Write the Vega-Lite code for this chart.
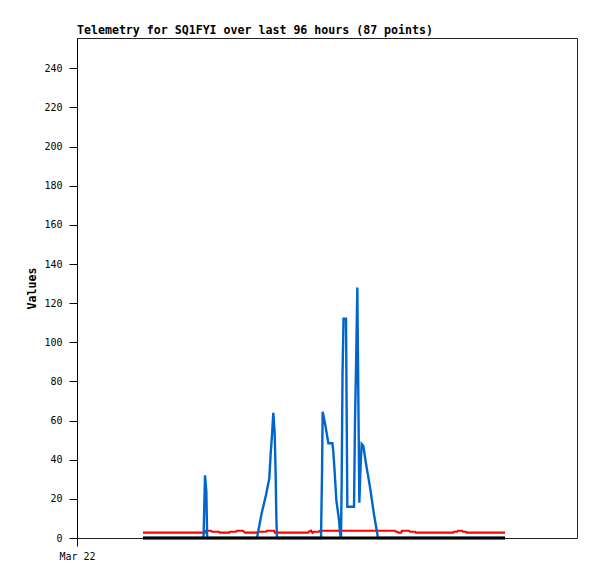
{
  "$schema": "https://vega.github.io/schema/vega-lite/v6.json",
  "autosize": {"type": "none"},
  "padding": {"left": 77, "top": 38, "right": 20, "bottom": 41},
  "width": 500,
  "height": 500,
  "background": "white",
  "config": {
    "view": {"stroke": "#222", "strokeWidth": 1},
    "font": "DejaVu Sans Mono"
  },
  "title": {
    "text": "Telemetry for SQ1FYI over last 96 hours (87 points)",
    "anchor": "start",
    "frame": "group",
    "offset": 1,
    "font": "DejaVu Sans Mono",
    "fontSize": 11.6,
    "fontWeight": "bold",
    "color": "black"
  },
  "data": {
    "values": [
      {"series": "red", "t": "2024-03-22T16:30", "v": 2.7},
      {"series": "red", "t": "2024-03-23T08:00", "v": 2.7},
      {"series": "red", "t": "2024-03-23T08:15", "v": 3.7},
      {"series": "red", "t": "2024-03-23T09:30", "v": 3.7},
      {"series": "red", "t": "2024-03-23T09:45", "v": 3.2},
      {"series": "red", "t": "2024-03-23T11:30", "v": 3.2},
      {"series": "red", "t": "2024-03-23T11:45", "v": 2.7},
      {"series": "red", "t": "2024-03-23T14:00", "v": 2.7},
      {"series": "red", "t": "2024-03-23T14:15", "v": 3.2},
      {"series": "red", "t": "2024-03-23T15:45", "v": 3.2},
      {"series": "red", "t": "2024-03-23T16:00", "v": 3.7},
      {"series": "red", "t": "2024-03-23T17:30", "v": 3.7},
      {"series": "red", "t": "2024-03-23T18:00", "v": 2.7},
      {"series": "red", "t": "2024-03-23T21:00", "v": 2.7},
      {"series": "red", "t": "2024-03-23T21:15", "v": 3.2},
      {"series": "red", "t": "2024-03-23T23:15", "v": 3.2},
      {"series": "red", "t": "2024-03-23T23:30", "v": 3.7},
      {"series": "red", "t": "2024-03-24T01:15", "v": 3.7},
      {"series": "red", "t": "2024-03-24T01:30", "v": 2.7},
      {"series": "red", "t": "2024-03-24T09:45", "v": 2.7},
      {"series": "red", "t": "2024-03-24T10:00", "v": 3.2},
      {"series": "red", "t": "2024-03-24T10:30", "v": 3.7},
      {"series": "red", "t": "2024-03-24T10:52", "v": 2.7},
      {"series": "red", "t": "2024-03-24T11:15", "v": 3.2},
      {"series": "red", "t": "2024-03-24T12:30", "v": 3.2},
      {"series": "red", "t": "2024-03-24T12:45", "v": 3.7},
      {"series": "red", "t": "2024-03-25T07:30", "v": 3.7},
      {"series": "red", "t": "2024-03-25T07:45", "v": 3.2},
      {"series": "red", "t": "2024-03-25T08:08", "v": 3.2},
      {"series": "red", "t": "2024-03-25T08:23", "v": 2.7},
      {"series": "red", "t": "2024-03-25T09:00", "v": 2.7},
      {"series": "red", "t": "2024-03-25T09:15", "v": 3.7},
      {"series": "red", "t": "2024-03-25T11:00", "v": 3.7},
      {"series": "red", "t": "2024-03-25T11:15", "v": 3.2},
      {"series": "red", "t": "2024-03-25T12:30", "v": 3.2},
      {"series": "red", "t": "2024-03-25T12:45", "v": 2.7},
      {"series": "red", "t": "2024-03-25T22:00", "v": 2.7},
      {"series": "red", "t": "2024-03-25T22:15", "v": 3.2},
      {"series": "red", "t": "2024-03-25T23:00", "v": 3.2},
      {"series": "red", "t": "2024-03-25T23:15", "v": 3.7},
      {"series": "red", "t": "2024-03-26T00:15", "v": 3.7},
      {"series": "red", "t": "2024-03-26T00:30", "v": 3.2},
      {"series": "red", "t": "2024-03-26T01:15", "v": 3.2},
      {"series": "red", "t": "2024-03-26T01:30", "v": 2.7},
      {"series": "red", "t": "2024-03-26T11:00", "v": 2.7},

      {"series": "blue", "t": "2024-03-22T16:30", "v": 0},
      {"series": "blue", "t": "2024-03-23T07:38", "v": 0},
      {"series": "blue", "t": "2024-03-23T08:00", "v": 32},
      {"series": "blue", "t": "2024-03-23T08:20", "v": 24},
      {"series": "blue", "t": "2024-03-23T08:33", "v": 0},
      {"series": "blue", "t": "2024-03-23T21:00", "v": 0},
      {"series": "blue", "t": "2024-03-23T22:10", "v": 12.7},
      {"series": "blue", "t": "2024-03-23T23:15", "v": 22},
      {"series": "blue", "t": "2024-03-24T00:05", "v": 30.6},
      {"series": "blue", "t": "2024-03-24T00:25", "v": 43},
      {"series": "blue", "t": "2024-03-24T00:45", "v": 52.6},
      {"series": "blue", "t": "2024-03-24T01:05", "v": 64},
      {"series": "blue", "t": "2024-03-24T01:25", "v": 53.6},
      {"series": "blue", "t": "2024-03-24T01:40", "v": 32},
      {"series": "blue", "t": "2024-03-24T01:50", "v": 11},
      {"series": "blue", "t": "2024-03-24T02:00", "v": 0},
      {"series": "blue", "t": "2024-03-24T13:00", "v": 0},
      {"series": "blue", "t": "2024-03-24T13:15", "v": 32},
      {"series": "blue", "t": "2024-03-24T13:25", "v": 64.5},
      {"series": "blue", "t": "2024-03-24T14:00", "v": 58.6},
      {"series": "blue", "t": "2024-03-24T14:25", "v": 53.6},
      {"series": "blue", "t": "2024-03-24T14:50", "v": 48.4},
      {"series": "blue", "t": "2024-03-24T15:50", "v": 48.4},
      {"series": "blue", "t": "2024-03-24T16:05", "v": 44},
      {"series": "blue", "t": "2024-03-24T16:20", "v": 36.4},
      {"series": "blue", "t": "2024-03-24T16:35", "v": 28},
      {"series": "blue", "t": "2024-03-24T16:50", "v": 19.4},
      {"series": "blue", "t": "2024-03-24T17:10", "v": 14.3},
      {"series": "blue", "t": "2024-03-24T17:30", "v": 9.2},
      {"series": "blue", "t": "2024-03-24T17:45", "v": 2.6},
      {"series": "blue", "t": "2024-03-24T18:00", "v": 0},
      {"series": "blue", "t": "2024-03-24T18:10", "v": 28},
      {"series": "blue", "t": "2024-03-24T18:23", "v": 84},
      {"series": "blue", "t": "2024-03-24T18:38", "v": 112},
      {"series": "blue", "t": "2024-03-24T19:15", "v": 112},
      {"series": "blue", "t": "2024-03-24T19:25", "v": 64},
      {"series": "blue", "t": "2024-03-24T19:35", "v": 16},
      {"series": "blue", "t": "2024-03-24T21:15", "v": 16},
      {"series": "blue", "t": "2024-03-24T21:30", "v": 60},
      {"series": "blue", "t": "2024-03-24T21:45", "v": 86},
      {"series": "blue", "t": "2024-03-24T22:05", "v": 128},
      {"series": "blue", "t": "2024-03-24T22:20", "v": 72},
      {"series": "blue", "t": "2024-03-24T22:35", "v": 18},
      {"series": "blue", "t": "2024-03-24T22:55", "v": 38},
      {"series": "blue", "t": "2024-03-24T23:10", "v": 48},
      {"series": "blue", "t": "2024-03-24T23:35", "v": 47},
      {"series": "blue", "t": "2024-03-25T00:15", "v": 38},
      {"series": "blue", "t": "2024-03-25T01:15", "v": 26},
      {"series": "blue", "t": "2024-03-25T02:15", "v": 12},
      {"series": "blue", "t": "2024-03-25T03:15", "v": 0},
      {"series": "blue", "t": "2024-03-26T11:00", "v": 0},

      {"series": "black", "t": "2024-03-22T16:30", "v": 0},
      {"series": "black", "t": "2024-03-26T11:00", "v": 0}
    ]
  },
  "encoding": {
    "x": {
      "field": "t",
      "type": "temporal",
      "scale": {"domain": [{"year": 2024, "month": 3, "date": 22}, {"year": 2024, "month": 3, "date": 27, "hours": 5}]},
      "axis": {
        "title": null,
        "values": [{"year": 2024, "month": 3, "date": 22}],
        "format": "%b %d",
        "grid": false,
        "domain": false,
        "tickColor": "black",
        "tickSize": 8,
        "labelPadding": 5,
        "labelFont": "DejaVu Sans Mono",
        "labelFontSize": 10,
        "labelColor": "black",
        "labelAlign": "center"
      }
    },
    "y": {
      "field": "v",
      "type": "quantitative",
      "scale": {"domain": [0, 255.5], "nice": false, "zero": true},
      "axis": {
        "title": "Values",
        "values": [0, 20, 40, 60, 80, 100, 120, 140, 160, 180, 200, 220, 240],
        "grid": false,
        "domainColor": "black",
        "tickColor": "black",
        "tickSize": 8,
        "labelPadding": 7,
        "labelFont": "DejaVu Sans Mono",
        "labelFontSize": 10,
        "labelColor": "black",
        "titleFont": "DejaVu Sans Mono",
        "titleFontSize": 11.6,
        "titleFontWeight": "bold",
        "titleColor": "black",
        "titleX": -45,
        "titleY": 250,
        "titleAngle": -90,
        "titleAlign": "center",
        "titleBaseline": "middle"
      }
    }
  },
  "layer": [
    {
      "transform": [{"filter": "datum.series === 'red'"}],
      "mark": {"type": "line", "color": "#ff0000", "strokeWidth": 2.2, "interpolate": "linear"}
    },
    {
      "transform": [{"filter": "datum.series === 'blue'"}],
      "mark": {"type": "line", "color": "#0066cc", "strokeWidth": 2.4, "interpolate": "linear"}
    },
    {
      "transform": [{"filter": "datum.series === 'black'"}],
      "mark": {"type": "line", "color": "#000000", "strokeWidth": 3, "interpolate": "linear"}
    }
  ]
}
